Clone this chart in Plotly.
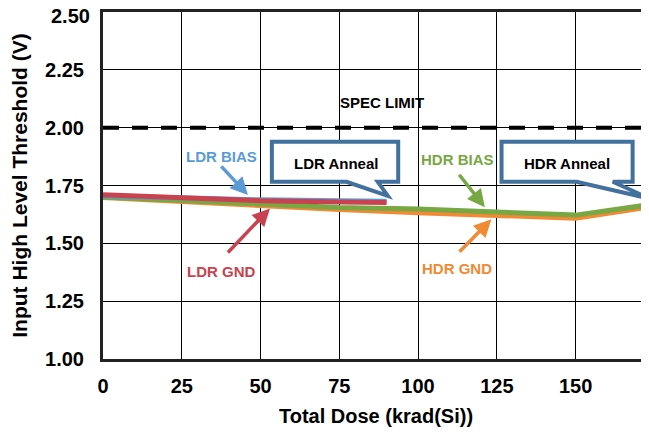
import plotly.graph_objects as go

# ---- data ----
hdr_dose = [0, 25, 50, 75, 100, 125, 150, 175]
hdr_bias = [1.700, 1.685, 1.667, 1.655, 1.648, 1.637, 1.622, 1.670]
hdr_gnd = [1.698, 1.680, 1.661, 1.646, 1.632, 1.618, 1.609, 1.660]
ldr_dose = [0, 25, 50, 75, 90]
ldr_bias = [1.705, 1.695, 1.688, 1.684, 1.682]
ldr_gnd = [1.710, 1.697, 1.684, 1.679, 1.676]
spec_limit = 2.00
x_ticks = [0, 25, 50, 75, 100, 125, 150]
y_ticks = [1.00, 1.25, 1.50, 1.75, 2.00, 2.25, 2.50]

C_BLUE = "#5B9BD5"
C_RED = "#C8434F"
C_GREEN = "#77A843"
C_ORANGE = "#F08A34"
C_CALLOUT = "#41719C"
FONT = "Liberation Sans"

fig = go.Figure()
fig.add_trace(go.Scatter(x=[0, 180], y=[spec_limit, spec_limit], mode="lines",
                         line=dict(color="black", width=4, dash="16px,13px"), showlegend=False))
fig.add_trace(go.Scatter(x=hdr_dose, y=hdr_gnd, mode="lines", line=dict(color=C_ORANGE, width=5), showlegend=False))
fig.add_trace(go.Scatter(x=hdr_dose, y=hdr_bias, mode="lines", line=dict(color=C_GREEN, width=5), showlegend=False))
fig.add_trace(go.Scatter(x=ldr_dose, y=ldr_bias, mode="lines", line=dict(color=C_BLUE, width=5), showlegend=False))
fig.add_trace(go.Scatter(x=ldr_dose, y=ldr_gnd, mode="lines", line=dict(color=C_RED, width=5), showlegend=False))

def callout(x0, x1, y0, y1, b0, b1, tx, ty):
    return (f"M {x0},{y1} L {x1},{y1} L {x1},{y0} L {b1},{y0} L {tx},{ty} "
            f"L {b0},{y0} L {x0},{y0} Z")

fig.add_shape(type="path", xref="x", yref="y",
              path=callout(53.6, 93.7, 1.766, 1.939, 77.3, 87.2, 90.4, 1.705),
              line=dict(color=C_CALLOUT, width=4), fillcolor="white", layer="above")
fig.add_shape(type="path", xref="x", yref="y",
              path=callout(126.5, 168.1, 1.766, 1.939, 150.3, 161.8, 173.6, 1.693),
              line=dict(color=C_CALLOUT, width=4), fillcolor="white", layer="above")

def txt(x, y, s, color):
    fig.add_annotation(x=x, y=y, text=s, showarrow=False, xref="x", yref="y",
                       font=dict(family=FONT, size=15, color=color, weight="bold"))

def arrow(x0, y0, x1, y1, color):
    fig.add_annotation(x=x1, y=y1, ax=x0, ay=y0, xref="x", yref="y", axref="x", ayref="y",
                       text="", showarrow=True, arrowhead=2, arrowsize=1, arrowwidth=3.5,
                       arrowcolor=color)

txt(88.4, 2.107, "SPEC LIMIT", "black")
txt(74.1, 1.847, "LDR Anneal", "black")
txt(147.4, 1.847, "HDR Anneal", "black")
txt(37.6, 1.877, "LDR BIAS", C_BLUE)
txt(37.4, 1.380, "LDR GND", C_RED)
txt(112.6, 1.862, "HDR BIAS", C_GREEN)
txt(112.2, 1.391, "HDR GND", C_ORANGE)
arrow(37.1, 1.839, 46.0, 1.709, C_BLUE)
arrow(39.2, 1.454, 53.0, 1.651, C_RED)
arrow(112.7, 1.803, 121.2, 1.656, C_GREEN)
arrow(112.7, 1.457, 123.3, 1.604, C_ORANGE)

tickfont = dict(family=FONT, size=20, color="black", weight="bold")
ytitlefont = dict(family=FONT, size=21, color="black", weight="bold")

# top tick label drawn as an annotation nudged down so the page edge does not cut it
y_ticktext = [f"{v:.2f}" for v in y_ticks]
top_label = y_ticktext[-1]
y_ticktext[-1] = ""
fig.add_annotation(x=0, y=y_ticks[-1], xref="paper", yref="y", text=top_label,
                   showarrow=False, xanchor="right", yanchor="middle", borderpad=0,
                   xshift=-12, yshift=-4, font=tickfont)

# page body has an 8px default margin, so the figure is offset by 8px
fig.update_layout(
    width=649, height=419,
    margin=dict(l=95, r=8, t=4, b=68, autoexpand=False),
    paper_bgcolor="white", plot_bgcolor="white",
    xaxis=dict(range=[0, 173.3], tickvals=x_ticks, ticktext=[str(v) for v in x_ticks],
               showgrid=True, gridcolor="black", gridwidth=1, zeroline=False,
               showline=True, linecolor="#222", linewidth=3, mirror=True,
               ticks="", ticklabelstandoff=7, tickfont=tickfont, automargin=False,
               ticklabeloverflow="allow",
               title=dict(text="Total Dose (krad(Si))", font=tickfont, standoff=14)),
    yaxis=dict(range=[1.0, 2.5], tickvals=y_ticks, ticktext=y_ticktext,
               showgrid=True, gridcolor="black", gridwidth=1, zeroline=False,
               showline=True, linecolor="#222", linewidth=3, mirror=False,
               ticks="", ticklabelstandoff=12, tickfont=tickfont,
               automargin=False, ticklabeloverflow="allow",
               title=dict(text="Input High Level Threshold (V)", font=ytitlefont, standoff=12)),
)
fig.write_html("out.html")
